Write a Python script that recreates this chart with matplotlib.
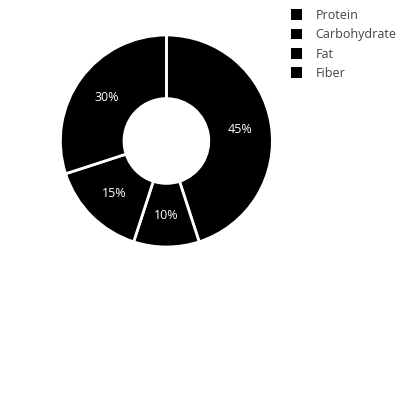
import matplotlib
matplotlib.use("Agg")
import matplotlib.pyplot as plt
from matplotlib.patches import Patch

plt.rcParams['font.family'] = ['Open Sans', 'DejaVu Sans']

labels = ['Protein', 'Carbohydrate', 'Fat', 'Fiber']
values = [45, 10, 15, 30]
colors = ['#000000', '#000000', '#000000', '#000000']

fig = plt.figure(figsize=(4, 4), dpi=100)
ax = fig.add_axes([0.151, 0.3825, 0.53, 0.53])

wedges, texts, autotexts = ax.pie(
    values, colors=colors, startangle=90, counterclock=False,
    autopct='%1.0f%%', pctdistance=0.7, radius=1,
    wedgeprops=dict(width=0.6, edgecolor='white', linewidth=2),
    textprops=dict(color='white', fontsize=9))
ax.set_xlim(-1, 1)
ax.set_ylim(-1, 1)
ax.set_aspect('equal')

handles = [Patch(facecolor=c, edgecolor='none') for c in colors]
fig.legend(handles, labels, loc='upper left', bbox_to_anchor=(0.714, 0.99),
           frameon=False, fontsize=9, labelcolor='#444444',
           handlelength=0.95, handleheight=0.95, handletextpad=1.05,
           labelspacing=0.5, borderaxespad=0)

fig.savefig('out.png', dpi=100)
